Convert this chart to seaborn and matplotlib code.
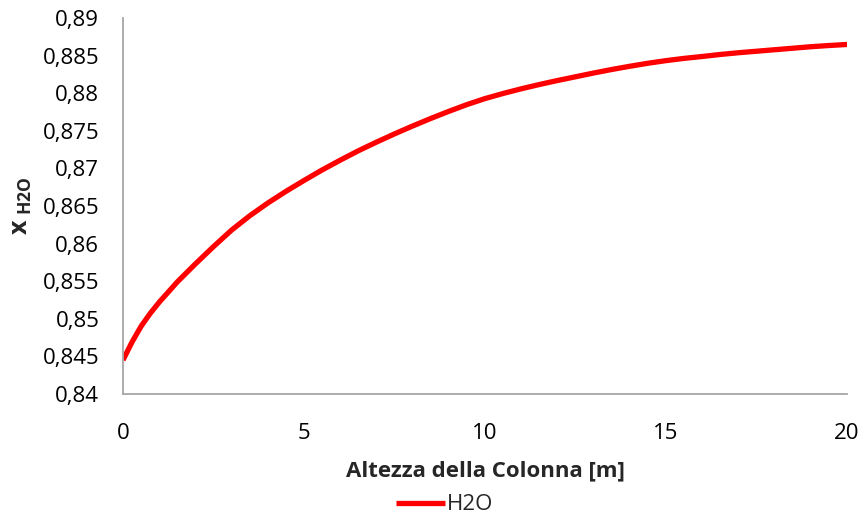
import matplotlib
matplotlib.use("Agg")
import matplotlib.pyplot as plt
import seaborn as sns
import pandas as pd
from matplotlib.ticker import FuncFormatter, MultipleLocator

# Data
altezza = [0, 0.25, 0.5, 0.75, 1, 1.5, 2, 2.5, 3, 3.5, 4, 4.5, 5, 5.5, 6, 6.5,
           7, 7.5, 8, 8.5, 9, 9.5, 10, 10.5, 11, 11.5, 12, 12.5, 13, 13.5,
           14, 14.5, 15, 15.5, 16, 16.5, 17, 17.5, 18, 18.5, 19, 19.5, 20]
x_h2o = [0.8445, 0.8469, 0.8490, 0.8507, 0.8522, 0.8549, 0.8573, 0.8596,
         0.8618, 0.8637, 0.8654, 0.86695, 0.8684, 0.8698, 0.8711, 0.87235,
         0.8735, 0.8746, 0.87565, 0.87665, 0.8776, 0.8785, 0.8793, 0.87998,
         0.8806, 0.88117, 0.8817, 0.8822, 0.8827, 0.88317, 0.8836, 0.8840,
         0.88435, 0.88465, 0.8849, 0.88517, 0.8854, 0.8856, 0.8858, 0.8860,
         0.8862, 0.88636, 0.8865]
series_name = "H2O"

df = pd.DataFrame({"Altezza": altezza, "x": x_h2o, "serie": series_name})

sns.set_theme(style="white")
plt.rcParams["font.family"] = ["Open Sans", "DejaVu Sans"]
plt.rcParams["mathtext.fontset"] = "custom"
plt.rcParams["mathtext.bf"] = "Open Sans:bold"
plt.rcParams["mathtext.rm"] = "Open Sans"

fig = plt.figure(figsize=(8.63, 5.19), dpi=100)
ax = fig.add_axes([0.1425, 0.241, 0.839, 0.724])

sns.lineplot(data=df, x="Altezza", y="x", hue="serie", palette={series_name: "#FF0000"},
             linewidth=3.8, ax=ax, legend=True)
for ln in ax.get_lines():
    ln.set_solid_joinstyle("round")
    ln.set_solid_capstyle("butt")

ax.set_xlim(0, 20)
ax.set_ylim(0.84, 0.89)
ax.xaxis.set_major_locator(MultipleLocator(5))
ax.yaxis.set_major_locator(MultipleLocator(0.005))

def fmt_y(v, pos):
    s = f"{v:.3f}".rstrip("0").rstrip(".")
    return s.replace(".", ",")

ax.yaxis.set_major_formatter(FuncFormatter(fmt_y))
ax.xaxis.set_major_formatter(FuncFormatter(lambda v, p: f"{v:g}"))

ax.tick_params(axis="both", which="both", length=0, labelsize=16, colors="black")
ax.tick_params(axis="x", pad=21)
ax.tick_params(axis="y", pad=17)

for s in ["top", "right"]:
    ax.spines[s].set_visible(False)
for s in ["left", "bottom"]:
    ax.spines[s].set_color("#a6a6a6")
    ax.spines[s].set_linewidth(1.3)

ax.set_xlabel("Altezza della Colonna [m]", fontsize=16, fontweight="bold", labelpad=12)
ax.set_ylabel(r"$\mathbf{x}_{\mathbf{\ H2O}}$", fontsize=18, labelpad=6)

leg = ax.legend(loc="lower center", bbox_to_anchor=(0.515, -0.01), bbox_transform=fig.transFigure,
                frameon=False, fontsize=16, handlelength=2.2, handletextpad=0.1,
                borderaxespad=0.0)
for line in leg.get_lines():
    line.set_linewidth(3.8)

fig.savefig("out.png", dpi=100)
